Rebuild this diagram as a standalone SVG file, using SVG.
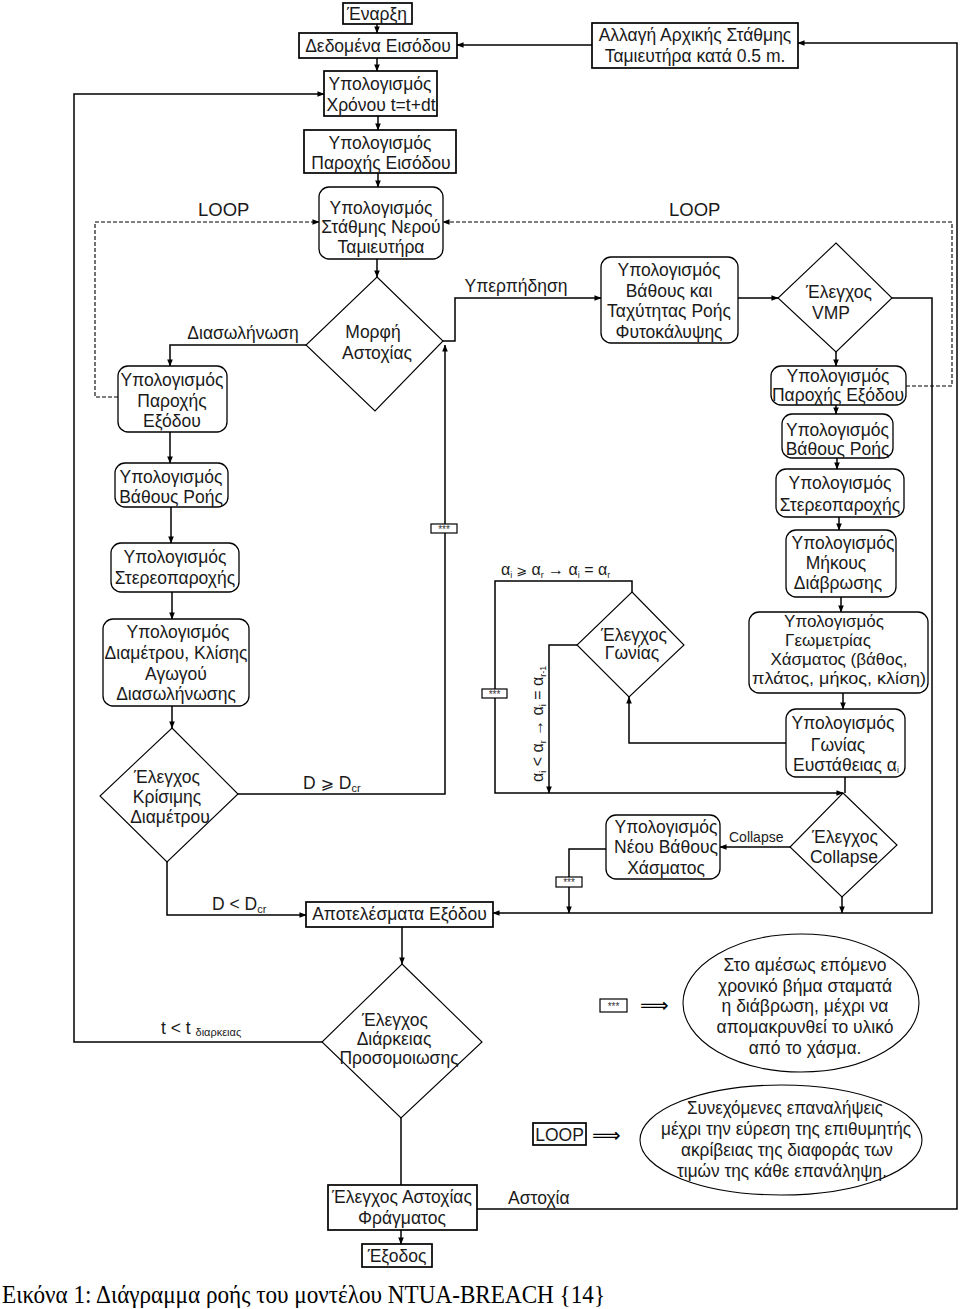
<svg xmlns="http://www.w3.org/2000/svg" width="960" height="1309" viewBox="0 0 960 1309">
<defs>
<marker id="ah" viewBox="0 0 8 8" refX="7.5" refY="4" markerWidth="7" markerHeight="7" markerUnits="userSpaceOnUse" orient="auto">
<path d="M0,0.8 L8,4 L0,7.2 Z" fill="#000"/>
</marker>
</defs>
<style>
.bx{fill:#fff;stroke:#000;stroke-width:1.7}
.rb{fill:#fff;stroke:#000;stroke-width:1.3}
.dm{fill:#fff;stroke:#000;stroke-width:1.1}
.el{fill:#fff;stroke:#000;stroke-width:1.1}
.t{font-family:"Liberation Sans",Arial,sans-serif;font-size:17.5px;fill:#1a1a1a;text-anchor:middle}
.l{font-family:"Liberation Sans",Arial,sans-serif;font-size:17.5px;fill:#1a1a1a}
.s{font-size:11px}
.c{fill:none;stroke:#000;stroke-width:1.5}
.a{marker-end:url(#ah)}
.d{fill:none;stroke:#000;stroke-width:1.1;stroke-dasharray:4 2}
.sb{fill:#fff;stroke:#000;stroke-width:1.2}
.st{font-family:"Liberation Sans",Arial,sans-serif;font-size:10px;fill:#333;text-anchor:middle}
.m{font-family:"DejaVu Sans",sans-serif}
</style>
<rect width="960" height="1309" fill="#fff"/>

<g id="connectors">
<path class="c a" d="M377,24 V33"/>
<path class="c a" d="M377,58 V71"/>
<path class="c a" d="M378,116 V130"/>
<path class="c a" d="M378,173 V187"/>
<path class="c a" d="M377,259 V277"/>
<path class="c a" d="M592,45 H457"/>
<path class="c a" d="M477,1209 H957 V43 H798"/>
<path class="d a" d="M118,397 H95 V222 H319"/>
<path class="d a" d="M906,386 H952 V222 H443"/>
<path class="c a" d="M306,345 H170 V366"/>
<path class="c a" d="M443,341 H455 V298 H601"/>
<path class="c a" d="M238,794 H445 V345"/>
<path class="c a" d="M170,432 V463"/>
<path class="c a" d="M171,507 V543"/>
<path class="c a" d="M172,592 V619"/>
<path class="c a" d="M172,706 V728"/>
<path class="c a" d="M167,862 V915 H306"/>
<path class="c a" d="M402,927 V964"/>
<path class="c a" d="M322,1042 H74 V94 H324"/>
<path class="c" d="M401,1118 V1185"/>
<path class="c a" d="M401,1230 V1244"/>
<path class="c a" d="M738,298 H778"/>
<path class="c a" d="M892,298 H932 V913 H493"/>
<path class="c a" d="M836,352 V366"/>
<path class="c a" d="M836,405 V414"/>
<path class="c a" d="M837,458 V469"/>
<path class="c a" d="M839,517 V530"/>
<path class="c a" d="M841,597 V612"/>
<path class="c a" d="M843,693 V709"/>
<path class="c" d="M845,777 V793"/>
<path class="c a" d="M786,743 H629 V697"/>
<path class="c a" d="M632,592 V581 H495 V793 H843"/>
<path class="c a" d="M577,645 H549 V793"/>
<path class="c a" d="M790,847 H720"/>
<path class="c a" d="M606,849 H569 V913"/>
<path class="c a" d="M842,897 V913"/>
</g>

<g id="labels">
<text class="l" x="198" y="216" style="font-size:18.5px">LOOP</text>
<text class="l" x="669" y="216" style="font-size:18.5px">LOOP</text>
<text class="t" x="243" y="339">Διασωλήνωση</text>
<text class="t" x="516" y="292">Υπερπήδηση</text>
<text class="l" x="303" y="789">D <tspan class="m" font-size="16">⩾</tspan> D<tspan class="s" dy="3">cr</tspan></text>
<text class="l" x="212" y="910">D &lt; D<tspan class="s" dy="3">cr</tspan></text>
<text class="l" x="161" y="1034">t &lt; t <tspan class="s" dy="2">διαρκειας</tspan></text>
<text class="l" x="508" y="1204">Αστοχία</text>
<text class="l" x="729" y="842" style="font-size:14px">Collapse</text>
<text class="l" x="501" y="575" style="font-size:16px">α<tspan font-size="9" dy="3">i</tspan><tspan dy="-3" class="m" font-size="13"> ⩾ </tspan>α<tspan font-size="9" dy="3">r</tspan><tspan dy="-3"> → α</tspan><tspan font-size="9" dy="3">i</tspan><tspan dy="-3"> = α</tspan><tspan font-size="9" dy="3">r</tspan></text>
<text class="l" style="font-size:16px" transform="translate(543,782) rotate(-90)">α<tspan font-size="9" dy="3">i</tspan><tspan dy="-3"> &lt; α</tspan><tspan font-size="9" dy="3">r</tspan><tspan dy="-3"> → α</tspan><tspan font-size="9" dy="3">i</tspan><tspan dy="-3"> = α</tspan><tspan font-size="9" dy="3">r-1</tspan></text>
</g>

<g id="star1"><rect class="sb" x="431" y="524" width="26" height="9"/><text class="st" x="444" y="533">***</text></g>
<g id="star2"><rect class="sb" x="482" y="689" width="25" height="9"/><text class="st" x="494.5" y="698">***</text></g>
<g id="star3"><rect class="sb" x="556" y="877" width="26" height="10"/><text class="st" x="569" y="886">***</text></g>

<g id="start"><rect class="bx" x="343" y="3" width="69" height="21"/><text class="t" x="377" y="20">Έναρξη</text></g>
<g id="input"><rect class="bx" x="299" y="33" width="158" height="25"/><text class="t" x="378" y="52">Δεδομένα Εισόδου</text></g>
<g id="time"><rect class="bx" x="324" y="71" width="113" height="45"/><text class="t" x="380" y="90">Υπολογισμός</text><text class="t" x="381" y="111">Χρόνου t=t+dt</text></g>
<g id="inflow"><rect class="bx" x="304" y="130" width="152" height="43"/><text class="t" x="380" y="148.5">Υπολογισμός</text><text class="t" x="381" y="169">Παροχής Εισόδου</text></g>
<g id="level"><rect class="rb" x="319" y="187" width="124" height="72" rx="10"/><text class="t" x="381" y="214">Υπολογισμός</text><text class="t" x="381" y="233">Στάθμης Νερού</text><text class="t" x="381" y="252.5">Ταμιευτήρα</text></g>
<g id="change"><rect class="bx" x="592" y="23" width="206" height="45"/><text class="t" x="695" y="41">Αλλαγή Αρχικής Στάθμης</text><text class="t" x="695" y="62">Ταμιευτήρα κατά 0.5 m.</text></g>
<g id="failmode"><polygon class="dm" points="377,277 443,341 375,411 306,345"/><text class="t" x="373" y="338">Μορφή</text><text class="t" x="377" y="359">Αστοχίας</text></g>

<g id="p-outflow"><rect class="rb" x="118" y="366" width="109" height="66" rx="10"/><text class="t" x="172" y="386">Υπολογισμός</text><text class="t" x="172" y="407">Παροχής</text><text class="t" x="172" y="427">Εξόδου</text></g>
<g id="p-depth"><rect class="rb" x="115" y="463" width="113" height="44" rx="10"/><text class="t" x="171" y="482.5">Υπολογισμός</text><text class="t" x="171" y="502.5">Βάθους Ροής</text></g>
<g id="p-sed"><rect class="rb" x="111" y="543" width="128" height="49" rx="10"/><text class="t" x="175" y="562.5">Υπολογισμός</text><text class="t" x="175" y="583.5">Στερεοπαροχής</text></g>
<g id="p-diam"><rect class="rb" x="103" y="619" width="146" height="87" rx="10"/><text class="t" x="178" y="637.5">Υπολογισμός</text><text class="t" x="176" y="658.5">Διαμέτρου, Κλίσης</text><text class="t" x="176" y="679.5">Αγωγού</text><text class="t" x="176" y="699.5">Διασωλήνωσης</text></g>
<g id="p-crit"><polygon class="dm" points="172,728 238,794 167,862 100,796"/><text class="t" x="167" y="782.5">Έλεγχος</text><text class="t" x="167" y="802.5">Κρίσιμης</text><text class="t" x="170" y="822.5">Διαμέτρου</text></g>

<g id="o-vel"><rect class="rb" x="601" y="257" width="137" height="86" rx="10"/><text class="t" x="669" y="276">Υπολογισμός</text><text class="t" x="669" y="297">Βάθους και</text><text class="t" x="669" y="317">Ταχύτητας Ροής</text><text class="t" x="669" y="338">Φυτοκάλυψης</text></g>
<g id="o-vmp"><polygon class="dm" points="836,243 892,298 836,352 778,298"/><text class="t" x="839" y="298">Έλεγχος</text><text class="t" x="831" y="318.5">VMP</text></g>
<g id="o-outflow"><rect class="rb" x="771" y="366" width="135" height="39" rx="10"/><text class="t" x="838" y="381.5">Υπολογισμός</text><text class="t" x="838" y="400.5">Παροχής Εξόδου</text></g>
<g id="o-depth"><rect class="rb" x="782" y="414" width="111" height="44" rx="10"/><text class="t" x="837.5" y="435.5">Υπολογισμός</text><text class="t" x="837.5" y="454.5">Βάθους Ροής</text></g>
<g id="o-sed"><rect class="rb" x="776" y="469" width="128" height="48" rx="10"/><text class="t" x="840" y="488.5">Υπολογισμός</text><text class="t" x="840" y="510.5">Στερεοπαροχής</text></g>
<g id="o-len"><rect class="rb" x="786" y="530" width="110" height="67" rx="10"/><text class="t" x="843" y="548.5">Υπολογισμός</text><text class="t" x="836" y="568.5">Μήκους</text><text class="t" x="838" y="588.5">Διάβρωσης</text></g>
<g id="o-geom"><rect class="rb" x="749" y="612" width="179" height="81" rx="10"/><text class="t" x="834" y="627" style="font-size:17px">Υπολογισμός</text><text class="t" x="828" y="646" style="font-size:17px">Γεωμετρίας</text><text class="t" x="839" y="665" style="font-size:17px">Χάσματος (βάθος,</text><text class="t" x="839" y="684" style="font-size:17px" textLength="174" lengthAdjust="spacingAndGlyphs">πλάτος, μήκος, κλίση)</text></g>
<g id="o-angle"><rect class="rb" x="786" y="709" width="119" height="68" rx="10"/><text class="t" x="843" y="728.5">Υπολογισμός</text><text class="t" x="838" y="750.5">Γωνίας</text><text class="t" x="846" y="770.5">Ευστάθειας α<tspan font-size="9" dy="2">i</tspan></text></g>
<g id="o-anglechk"><polygon class="dm" points="632,592 684,645 629,697 577,645"/><text class="t" x="634" y="640.5">Έλεγχος</text><text class="t" x="632" y="658.5">Γωνίας</text></g>
<g id="o-collapse"><polygon class="dm" points="843,793 897,845 842,897 790,847"/><text class="t" x="845" y="842.5">Έλεγχος</text><text class="t" x="844" y="862.5">Collapse</text></g>
<g id="o-newdepth"><rect class="rb" x="606" y="815" width="114" height="64" rx="10"/><text class="t" x="666" y="832.5">Υπολογισμός</text><text class="t" x="666" y="852.5">Νέου Βάθους</text><text class="t" x="666" y="873.5">Χάσματος</text></g>

<g id="results"><rect class="bx" x="306" y="902" width="187" height="25"/><text class="t" x="399.5" y="920">Αποτελέσματα Εξόδου</text></g>
<g id="duration"><polygon class="dm" points="402,964 482,1042 401,1118 322,1042"/><text class="t" x="395" y="1025.5">Έλεγχος</text><text class="t" x="394" y="1044.5">Διάρκειας</text><text class="t" x="399" y="1063.5">Προσομοιωσης</text></g>
<g id="damfail"><rect class="bx" x="328" y="1185" width="149" height="45"/><text class="t" x="402" y="1203">Έλεγχος Αστοχίας</text><text class="t" x="402" y="1224">Φράγματος</text></g>
<g id="exit"><rect class="bx" x="362" y="1244" width="70" height="23"/><text class="t" x="397" y="1262">Έξοδος</text></g>

<g id="legend-star"><rect class="sb" x="600" y="999" width="27" height="13"/><text class="st" x="613.5" y="1010">***</text><text class="m" x="640" y="1012" font-size="20">⟹</text></g>
<g id="note-star"><ellipse class="el" cx="801" cy="1003" rx="118" ry="69"/><text class="t" x="805" y="970.5">Στο αμέσως επόμενο</text><text class="t" x="805" y="991.5">χρονικό βήμα σταματά</text><text class="t" x="805" y="1012">η διάβρωση, μέχρι να</text><text class="t" x="805" y="1033">απομακρυνθεί το υλικό</text><text class="t" x="805" y="1054">από το χάσμα.</text></g>
<g id="legend-loop"><rect class="bx" x="533" y="1123" width="53" height="22"/><text class="t" x="559.5" y="1141" style="font-size:17.5px">LOOP</text><text class="m" x="592" y="1142" font-size="20">⟹</text></g>
<g id="note-loop"><ellipse class="el" cx="781" cy="1140" rx="141" ry="55"/><text class="t" x="785" y="1114" textLength="196" lengthAdjust="spacingAndGlyphs">Συνεχόμενες επαναλήψεις</text><text class="t" x="786" y="1135" textLength="250" lengthAdjust="spacingAndGlyphs">μέχρι την εύρεση της επιθυμητής</text><text class="t" x="787" y="1156" textLength="212" lengthAdjust="spacingAndGlyphs">ακρίβειας της διαφοράς των</text><text class="t" x="782" y="1177" textLength="210" lengthAdjust="spacingAndGlyphs">τιμών της κάθε επανάληψη.</text></g>

<text x="2" y="1303" font-family="Liberation Serif, serif" font-size="25" fill="#000" textLength="603" lengthAdjust="spacingAndGlyphs">Εικόνα 1: Διάγραμμα ροής του μοντέλου NTUA-BREACH {14}</text>
</svg>
